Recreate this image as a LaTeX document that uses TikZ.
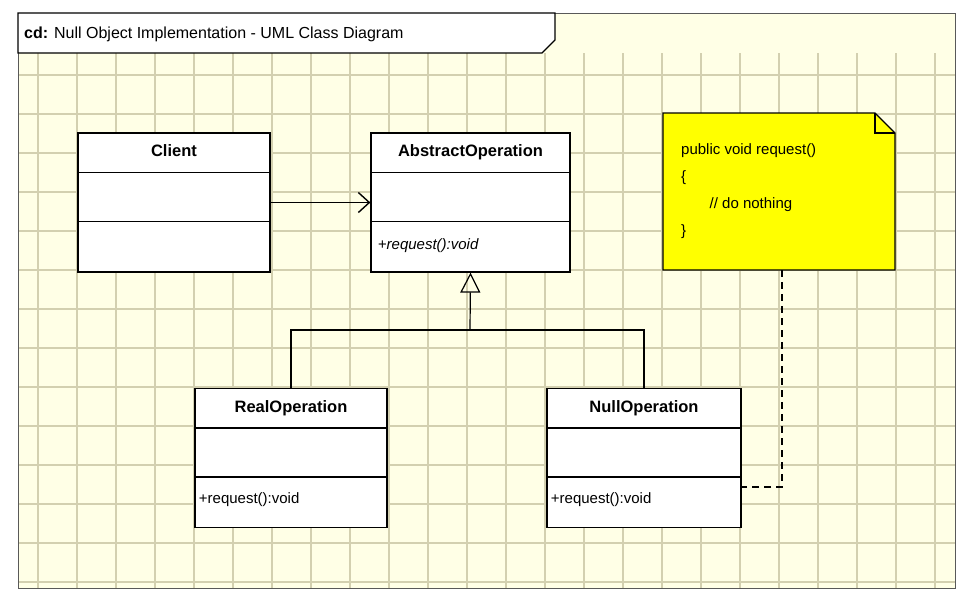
\documentclass[tikz,border=0pt]{standalone}
\usepackage{fontspec}
\setmainfont{Liberation Sans}
\usetikzlibrary{calc,arrows.meta,shapes.geometric}
\definecolor{paper}{HTML}{FFFFE6}
\definecolor{gridc}{HTML}{D3D0B0}
\definecolor{notey}{HTML}{FFFF00}
\begin{document}
\begin{tikzpicture}[
        x=1pt, y=-1pt,
        cls/.style={draw, line width=1.2pt, fill=white, minimum width=#1, minimum height=139pt, inner sep=0pt},
        cls/.default=194pt,
        title/.style={font=\fontsize{16.5}{18}\selectfont\bfseries, below=9pt},
        op/.style={font=\fontsize{15}{17}\selectfont, anchor=west},
        forward/.style={-{Straight Barb[length=11pt,width=20pt]}, line width=1.4pt},
        inherit/.style={{Triangle[open,length=20pt,width=20pt]}-, line width=1.2pt},
        anchorline/.style={dashed, dash pattern=on 7pt off 5pt, line width=1.2pt}
    ]
        \useasboundingbox (0,0) rectangle (976,598);
        \fill[white] (0,0) rectangle (976,598);
        \fill[paper] (18,13) rectangle (955,588);
        % grid
        \foreach \gx in {38,77,...,950} \draw[gridc, line width=1.3pt] (\gx,53) -- (\gx,588);
        \foreach \gy in {75,114,...,588} \draw[gridc, line width=1.3pt] (18,\gy) -- (955,\gy);
        \draw[line width=1pt, gray!70!black] (18,13) rectangle (955,588);
        % frame tab
        \draw[line width=1.2pt, fill=white] (18,13) -- (555,13) -- (555,40) -- (542,53) -- (18,53) -- cycle;
        \node[anchor=west, font=\fontsize{16}{18}\selectfont, inner sep=0pt] (frame) at (24,34) {\textbf{cd:} Null Object Implementation - UML Class Diagram};
        % classes
        \node[cls=192pt] (client) at (174,202.5) {};
        \node[title] at (client.north) {Client};
        \node[cls=199pt] (abs) at (470.5,202.5) {};
        \node[title] at (abs.north) {AbstractOperation};
        \node[op] at ($(abs.north west)+(4,113)$) {\itshape +request():void};
        \node[cls=192pt] (real) at (291,458) {};
        \node[title] at (real.north) {RealOperation};
        \node[op] at ($(real.north west)+(1,112)$) {+request():void};
        \node[cls=194pt] (null) at (644,458) {};
        \node[title] at (null.north) {NullOperation};
        \node[op] at ($(null.north west)+(1,112)$) {+request():void};
        \foreach \c in {client,abs,real,null} {
            \draw[line width=1.2pt] ($(\c.north west)+(0,40)$) -- ($(\c.north east)+(0,40)$);
            \draw[line width=1.2pt] ($(\c.north west)+(0,89)$) -- ($(\c.north east)+(0,89)$);
        }
        % note
        \draw[line width=1.2pt, fill=notey] (663,113) -- (875,113) -- (895,133) -- (895,270) -- (663,270) -- cycle;
        \draw[line width=1.2pt] (875,113) -- (875,133) -- (895,133);
        \node[anchor=north west, align=left, font=\fontsize{15}{27}\selectfont, inner sep=0pt] (note) at (681,143)
            {public void request()\\\{\\\hspace{1.9em}// do nothing\\\}};
        \coordinate (notebot) at (782,270);
        % connectors
        \draw[forward] (client.east) -- (abs.west);
        \coordinate (split) at (470,330);
        \draw[inherit] (abs.south) -- (split);
        \draw[line width=1.2pt] (real.north) |- (split) -| (null.north);
        \draw[anchorline] (notebot) |- ($(null.east)+(0,29)$);
\end{tikzpicture}
\end{document}
